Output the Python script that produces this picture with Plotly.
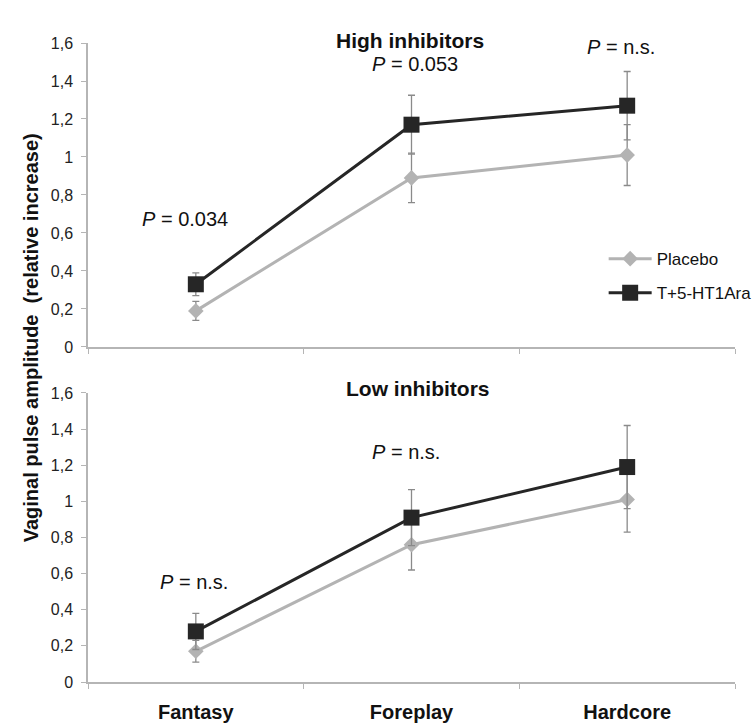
import plotly.graph_objects as go

# Stimulus conditions
categories = ["Fantasy", "Foreplay", "Hardcore"]

# High inhibitors: means and standard errors
high_placebo = [0.19, 0.89, 1.01]
high_placebo_err = [0.05, 0.13, 0.16]
high_drug = [0.33, 1.17, 1.27]
high_drug_err = [0.06, 0.155, 0.18]

# Low inhibitors: means and standard errors
low_placebo = [0.17, 0.76, 1.01]
low_placebo_err = [0.06, 0.14, 0.18]
low_drug = [0.28, 0.91, 1.19]
low_drug_err = [0.10, 0.155, 0.23]

# P-value labels per condition
high_p = ["0.034", "0.053", "n.s."]
low_p = ["n.s.", "n.s.", "n.s."]

y_tickvals = [0, 0.2, 0.4, 0.6, 0.8, 1.0, 1.2, 1.4, 1.6]
y_ticktext = ["0", "0,2", "0,4", "0,6", "0,8", "1", "1,2", "1,4", "1,6"]

FONT = "Liberation Sans, Arial, sans-serif"
PLACEBO_COLOR = "#b3b3b3"
DRUG_COLOR = "#262626"
ERR_COLOR = "#8a8a8a"
AXIS_COLOR = "#b5b5b5"

fig = go.Figure()


def add_pair(placebo, placebo_err, drug, drug_err, xa, ya, show):
    fig.add_trace(go.Scatter(
        x=categories, y=placebo, name="Placebo", mode="lines+markers",
        line=dict(color=PLACEBO_COLOR, width=3),
        marker=dict(symbol="diamond", size=12, color=PLACEBO_COLOR),
        error_y=dict(type="data", array=placebo_err, color=ERR_COLOR,
                     thickness=1.3, width=3.5),
        xaxis=xa, yaxis=ya, showlegend=show, legendgroup="placebo",
    ))
    fig.add_trace(go.Scatter(
        x=categories, y=drug, name="T+5-HT1Ara", mode="lines+markers",
        line=dict(color=DRUG_COLOR, width=3),
        marker=dict(symbol="square", size=16, color=DRUG_COLOR),
        error_y=dict(type="data", array=drug_err, color=ERR_COLOR,
                     thickness=1.3, width=3.5),
        xaxis=xa, yaxis=ya, showlegend=show, legendgroup="drug",
    ))


add_pair(high_placebo, high_placebo_err, high_drug, high_drug_err, "x2", "y2", True)
add_pair(low_placebo, low_placebo_err, low_drug, low_drug_err, "x", "y", False)

yaxis_style = dict(
    range=[0, 1.6], tickvals=y_tickvals, ticktext=y_ticktext,
    showgrid=False, zeroline=False, showline=True, linecolor=AXIS_COLOR,
    linewidth=1.5, ticks="outside", ticklen=5, tickcolor=AXIS_COLOR,
    tickfont=dict(family=FONT, size=16, color="#222222"), automargin=False,
    ticklabelstandoff=5,
)
xaxis_style = dict(
    type="category", categoryorder="array", categoryarray=categories,
    range=[-0.5, 2.5], tickson="boundaries", ticks="outside", ticklen=5,
    tickcolor=AXIS_COLOR, showgrid=False, zeroline=False, showline=True,
    linecolor=AXIS_COLOR, linewidth=1.5, automargin=False,
)

fig.update_layout(
    width=756, height=726,
    margin=dict(l=88, r=21, t=43, b=44, autoexpand=False),
    paper_bgcolor="white", plot_bgcolor="white",
    font=dict(family=FONT, color="#111111"),
    xaxis=dict(**xaxis_style, anchor="y", domain=[0, 1],
               tickfont=dict(family=FONT, size=20, color="#111111", weight="bold"),
               ticklabelstandoff=11),
    yaxis=dict(**yaxis_style, anchor="x", domain=[0, 0.4523]),
    xaxis2=dict(**xaxis_style, anchor="y2", domain=[0, 1], showticklabels=False),
    yaxis2=dict(**yaxis_style, anchor="x2", domain=[0.5243, 1]),
    legend=dict(x=0.797, y=0.69, xanchor="left", yanchor="top",
                font=dict(family=FONT, size=17, color="#111111"),
                tracegroupgap=9, bgcolor="rgba(0,0,0,0)", itemwidth=43),
)

# Panel titles
fig.add_annotation(text="<b>High inhibitors</b>", xref="paper", yref="paper",
                   x=0.498, y=1.025, showarrow=False,
                   font=dict(family=FONT, size=21, color="#111111"))
fig.add_annotation(text="<b>Low inhibitors</b>", xref="paper", yref="paper",
                   x=0.51, y=0.46, showarrow=False,
                   font=dict(family=FONT, size=21, color="#111111"))

# Shared y-axis title
fig.add_annotation(text="<b>Vaginal pulse amplitude  (relative increase)</b>",
                   xref="paper", yref="paper", x=-0.108, y=0.538,
                   textangle=-90, showarrow=False,
                   font=dict(family=FONT, size=20, color="#111111"))

# P-value annotations
high_p_y = [0.674, 1.49, 1.58]
high_p_shift = [-11, 3, -6]
low_p_y = [0.554, 1.273, 1.606]
low_p_shift = [-2, -6, -6]

for cat, p, yv, dx in zip(categories, high_p, high_p_y, high_p_shift):
    fig.add_annotation(text=f"<i>P</i> = {p}", x=cat, y=yv, xref="x2", yref="y2",
                       xshift=dx, showarrow=False,
                       font=dict(family=FONT, size=20, color="#111111"))
for cat, p, yv, dx in zip(categories, low_p, low_p_y, low_p_shift):
    fig.add_annotation(text=f"<i>P</i> = {p}", x=cat, y=yv, xref="x", yref="y",
                       xshift=dx, showarrow=False,
                       font=dict(family=FONT, size=20, color="#111111"))

fig.write_html("out.html")
